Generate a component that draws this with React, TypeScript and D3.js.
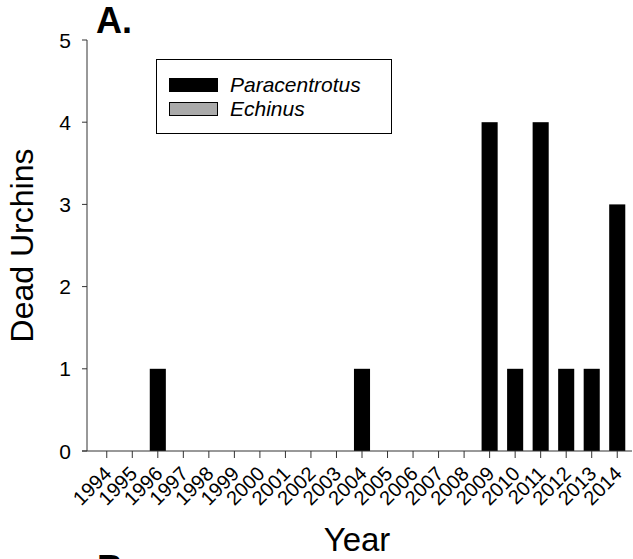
import React from "react";
import * as d3 from "d3";

// Annual counts of dead urchins by species
const years = [
  "1994", "1995", "1996", "1997", "1998", "1999", "2000", "2001", "2002", "2003", "2004",
  "2005", "2006", "2007", "2008", "2009", "2010", "2011", "2012", "2013", "2014",
];
const paracentrotus = [0, 0, 1, 0, 0, 0, 0, 0, 0, 0, 1, 0, 0, 0, 0, 4, 1, 4, 1, 1, 3];
const echinus = [0, 0, 0, 0, 0, 0, 0, 0, 0, 0, 0, 0, 0, 0, 0, 0, 0, 0, 0, 0, 0];
const yTicks = [0, 1, 2, 3, 4, 5];
const seriesNames = ["Paracentrotus", "Echinus"];
const seriesColors = ["#000000", "#aaaaaa"];

const W = 633;
const H = 559;
const FONT = "'Liberation Sans', Arial, Helvetica, sans-serif";

export default function App() {
  const axisLeft = 87;
  const axisRight = 632;
  const plotTop = 40;
  const plotBottom = 451;

  const x = d3
    .scaleBand<string>()
    .domain(years)
    .range([94, 630])
    .paddingInner(0.37)
    .paddingOuter(0.185);
  const y = d3.scaleLinear().domain([0, 5]).range([plotBottom, plotTop]);

  const rows = years.map((yr, i) => ({
    year: yr,
    Paracentrotus: paracentrotus[i],
    Echinus: echinus[i],
  }));
  const stacked = d3.stack<any>().keys(seriesNames)(rows);

  const axisColor = "#333";

  return (
    <div style={{ position: "absolute", left: 0, top: 0 }}>
      <svg width={W} height={H} style={{ display: "block", background: "#fff" }} fontFamily={FONT}>
        <rect x={0} y={0} width={W} height={H} fill="#fff" />

        {/* bars */}
        {stacked.map((layer, si) =>
          layer.map((d, i) => {
            const h = y(d[0]) - y(d[1]);
            if (h <= 0) return null;
            return (
              <rect
                key={`${si}-${i}`}
                x={x(years[i])}
                y={y(d[1])}
                width={x.bandwidth()}
                height={h}
                fill={seriesColors[si]}
              />
            );
          })
        )}

        {/* y axis */}
        <line x1={axisLeft} x2={axisLeft} y1={plotTop} y2={plotBottom} stroke={axisColor} strokeWidth={1} />
        {yTicks.map((t) => (
          <g key={t}>
            <line x1={axisLeft - 5} x2={axisLeft} y1={y(t)} y2={y(t)} stroke={axisColor} strokeWidth={1} />
            <text x={71} y={y(t)} dy="0.36em" textAnchor="end" fontSize={21} fill="#000">
              {t}
            </text>
          </g>
        ))}

        {/* x axis */}
        <line x1={axisLeft - 5} x2={axisRight} y1={plotBottom} y2={plotBottom} stroke={axisColor} strokeWidth={1} />
        {years.map((yr) => {
          const cx = (x(yr) as number) + x.bandwidth() / 2;
          return (
            <g key={yr}>
              <line x1={cx} x2={cx} y1={plotBottom} y2={plotBottom + 7} stroke={axisColor} strokeWidth={1} />
              <text
                transform={`translate(${cx + 6},${plotBottom + 24}) rotate(-45)`}
                textAnchor="end"
                fontSize={20}
                fill="#000"
              >
                {yr}
              </text>
            </g>
          );
        })}

        {/* axis titles */}
        <text
          transform={`translate(33,${(plotTop + plotBottom) / 2}) rotate(-90)`}
          textAnchor="middle"
          fontSize={32}
          fill="#000"
        >
          Dead Urchins
        </text>
        <text x={357} y={551} textAnchor="middle" fontSize={33} fill="#000">
          Year
        </text>

        {/* panel letters */}
        <text x={96} y={33} fontSize={36} fontWeight="bold" fill="#000">
          A.
        </text>
        <text x={97} y={581} fontSize={36} fontWeight="bold" fill="#000">
          B.
        </text>

        {/* legend */}
        <g>
          <rect x={156.5} y={59.5} width={235} height={74} fill="#fff" stroke="#000" strokeWidth={1} />
          {seriesNames.map((name, i) => (
            <g key={name}>
              <rect
                x={169.5}
                y={78.5 + i * 24}
                width={48}
                height={13}
                fill={seriesColors[i]}
                stroke="#000"
                strokeWidth={1}
              />
              <text x={230} y={92 + i * 23.5} fontSize={21} fontStyle="italic" fill="#000">
                {name}
              </text>
            </g>
          ))}
        </g>
      </svg>
    </div>
  );
}
